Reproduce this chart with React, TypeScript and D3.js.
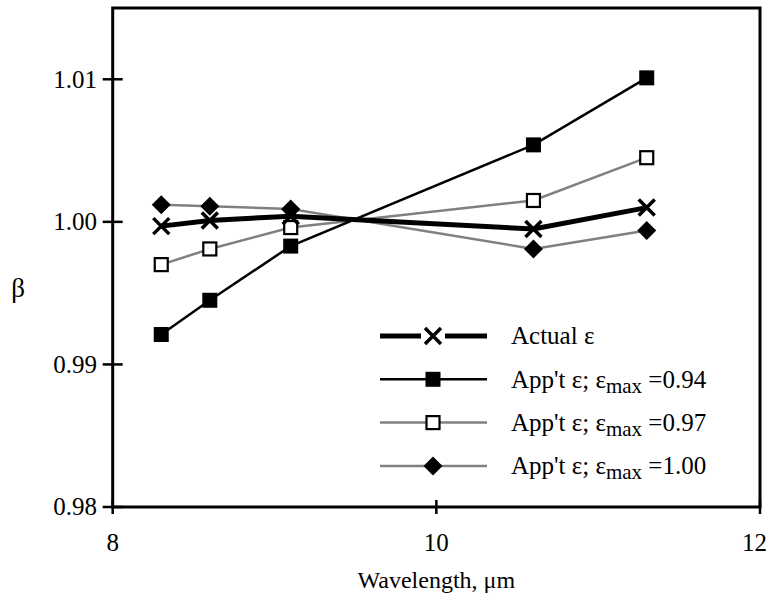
import React from "react";
import * as d3 from "d3";

const wavelengths = [8.3, 8.6, 9.1, 10.6, 11.3];
const actualEps = [0.9997, 1.0001, 1.0004, 0.9995, 1.001];
const appEps094 = [0.9921, 0.9945, 0.9983, 1.0054, 1.0101];
const appEps097 = [0.997, 0.9981, 0.9996, 1.0015, 1.0045];
const appEps100 = [1.0012, 1.0011, 1.0009, 0.9981, 0.9994];
const xTicks = [8, 10, 12];
const yTicks = [0.98, 0.99, 1.0, 1.01];
const legendValues = ["0.94", "0.97", "1.00"];

const W = 769;
const H = 604;
const FONT = "'Liberation Serif', 'Times New Roman', serif";

type Marker = "x" | "fsq" | "osq" | "dia";
interface Series {
  key: string;
  values: number[];
  color: string;
  width: number;
  marker: Marker;
}

const series: Series[] = [
  { key: "e100", values: appEps100, color: "#808080", width: 2.5, marker: "dia" },
  { key: "e097", values: appEps097, color: "#808080", width: 2.5, marker: "osq" },
  { key: "e094", values: appEps094, color: "#000", width: 2.5, marker: "fsq" },
  { key: "actual", values: actualEps, color: "#000", width: 5, marker: "x" },
];

function MarkerShape({ type, cx, cy }: { type: Marker; cx: number; cy: number }) {
  if (type === "x") {
    const r = 8;
    return (
      <path
        d={`M${cx - r},${cy - r}L${cx + r},${cy + r}M${cx - r},${cy + r}L${cx + r},${cy - r}`}
        stroke="#000"
        strokeWidth={3.5}
        fill="none"
      />
    );
  }
  if (type === "fsq") {
    const s = 15;
    return <rect x={cx - s / 2} y={cy - s / 2} width={s} height={s} fill="#000" />;
  }
  if (type === "osq") {
    const s = 13;
    return (
      <rect x={cx - s / 2} y={cy - s / 2} width={s} height={s} fill="#fff" stroke="#000" strokeWidth={2.2} />
    );
  }
  const r = 9.5;
  return (
    <path d={`M${cx},${cy - r}L${cx + r},${cy}L${cx},${cy + r}L${cx - r},${cy}Z`} fill="#000" />
  );
}

export default function App() {
  const x = d3.scaleLinear().domain([8, 12]).range([112.7, 760]);
  const y = d3.scaleLinear().domain([0.98, 1.015]).range([507, 8]);
  const line = d3
    .line<number>()
    .x((_, i) => x(wavelengths[i]))
    .y((d) => y(d));

  const x0 = x(8);
  const x1 = x(12);
  const yTop = y(1.015);
  const yBot = y(0.98);

  const legendRows = [
    { label: "actual", marker: "x" as Marker, color: "#000", width: 5 },
    { label: legendValues[0], marker: "fsq" as Marker, color: "#000", width: 2.5 },
    { label: legendValues[1], marker: "osq" as Marker, color: "#808080", width: 2.5 },
    { label: legendValues[2], marker: "dia" as Marker, color: "#808080", width: 2.5 },
  ];
  const lx0 = 380;
  const lx1 = 487;
  const lxm = 433;
  const ly0 = 336;
  const lstep = 43.3;

  return (
    <div style={{ position: "absolute", left: 0, top: 0 }}>
      <svg width={W} height={H} style={{ display: "block", background: "#fff" }} fontFamily={FONT}>
        <rect x={0} y={0} width={W} height={H} fill="#fff" />
        {series.map((s) => (
          <path key={s.key} d={line(s.values) || ""} fill="none" stroke={s.color} strokeWidth={s.width} />
        ))}
        {series.map((s) =>
          s.values.map((v, i) => (
            <MarkerShape key={s.key + i} type={s.marker} cx={x(wavelengths[i])} cy={y(v)} />
          ))
        )}
        <rect x={x0} y={yTop} width={x1 - x0} height={yBot - yTop} fill="none" stroke="#000" strokeWidth={3} />
        {yTicks.map((t) => (
          <g key={"y" + t}>
            <line x1={x0 - 10} x2={x0 + 10} y1={y(t)} y2={y(t)} stroke="#000" strokeWidth={2.5} />
            <text x={97} y={y(t)} dy="0.33em" textAnchor="end" fontSize={25} fill="#000">
              {t.toFixed(2)}
            </text>
          </g>
        ))}
        {xTicks.map((t, i) => {
          const last = i === xTicks.length - 1;
          return (
            <g key={"x" + t}>
              <line x1={x(t)} x2={x(t)} y1={yBot - 7} y2={yBot + 7} stroke="#000" strokeWidth={2.5} />
              <text
                x={last ? 767 : x(t)}
                y={551}
                textAnchor={last ? "end" : "middle"}
                fontSize={25}
                fill="#000"
              >
                {t}
              </text>
            </g>
          );
        })}
        <text x={(x0 + x1) / 2} y={588} textAnchor="middle" fontSize={24} fill="#000">
          Wavelength, μm
        </text>
        <text x={18} y={297} textAnchor="middle" fontSize={27} fill="#000">
          β
        </text>
        {legendRows.map((r, i) => {
          const cy = ly0 + i * lstep;
          return (
            <g key={"leg" + i}>
              {r.marker === "x" ? (
                <>
                  <line x1={lx0} x2={lxm - 12} y1={cy} y2={cy} stroke={r.color} strokeWidth={r.width} />
                  <line x1={lxm + 12} x2={lx1} y1={cy} y2={cy} stroke={r.color} strokeWidth={r.width} />
                </>
              ) : (
                <line x1={lx0} x2={lx1} y1={cy} y2={cy} stroke={r.color} strokeWidth={r.width} />
              )}
              <MarkerShape type={r.marker} cx={lxm} cy={cy} />
              {r.label === "actual" ? (
                <text x={511} y={cy} dy="0.33em" fontSize={25} fill="#000">
                  Actual ε
                </text>
              ) : (
                <text x={511} y={cy} dy="0.33em" fontSize={25} fill="#000">
                  App't ε; ε
                  <tspan fontSize={21} dy={5}>
                    max
                  </tspan>
                  <tspan dy={-5}>{" =" + r.label}</tspan>
                </text>
              )}
            </g>
          );
        })}
      </svg>
    </div>
  );
}
